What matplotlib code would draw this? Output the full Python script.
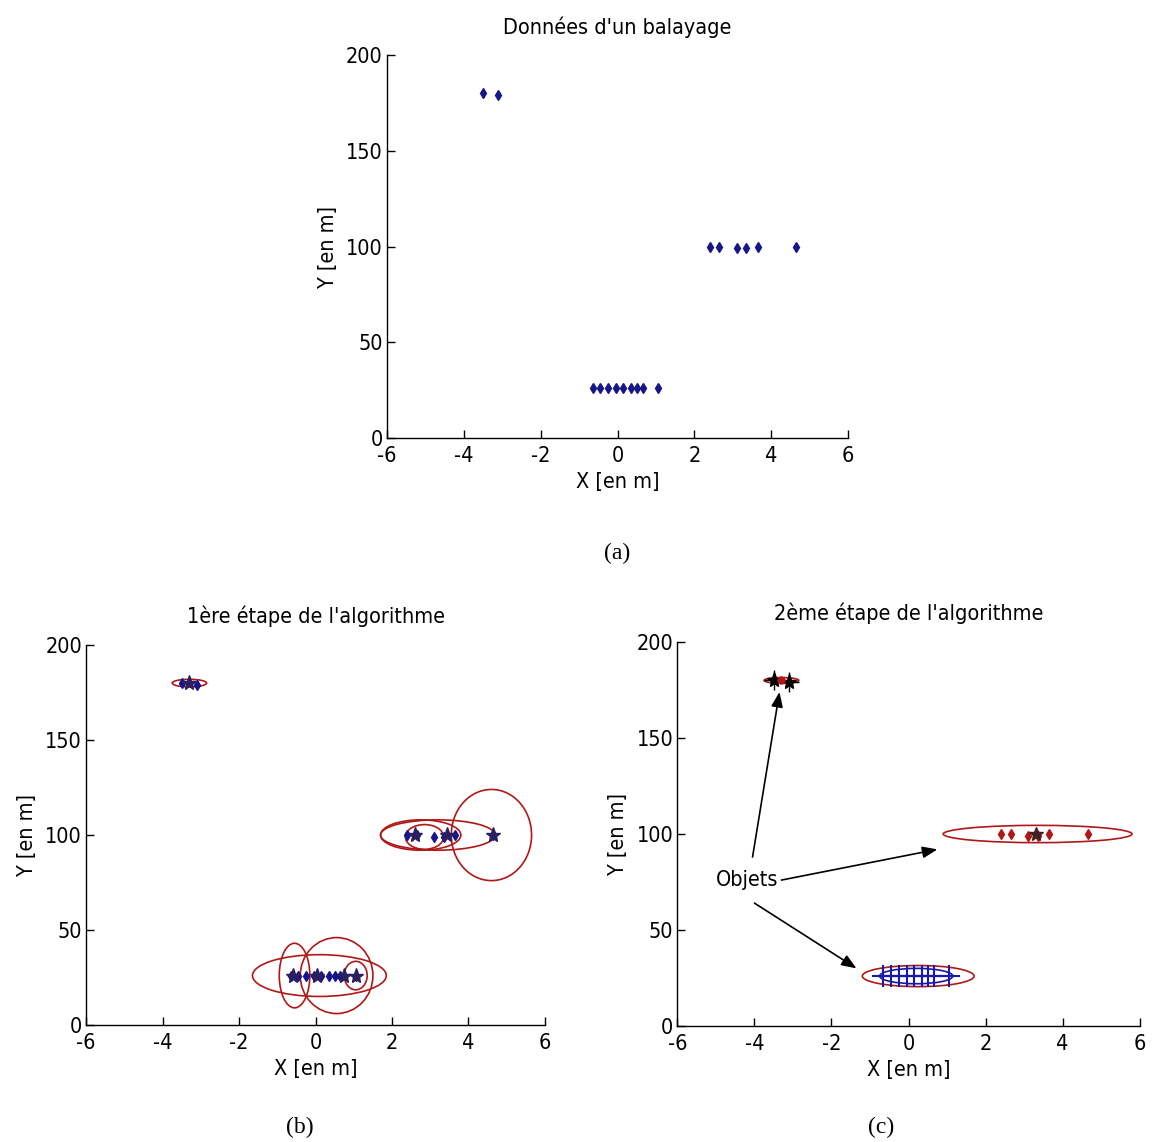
import matplotlib
matplotlib.use("Agg")
import matplotlib.pyplot as plt
from matplotlib.patches import Ellipse
from matplotlib import font_manager as fm

names = {f.name for f in fm.fontManager.ttflist}
SERIF = "Liberation Serif" if "Liberation Serif" in names else "DejaVu Serif"
plt.rcParams['font.family'] = ['DejaVu Sans']
plt.rcParams['font.stretch'] = 'condensed'
plt.rcParams['axes.unicode_minus'] = False

# ---------------- data ----------------
scan_x = [-3.5, -3.1, -0.65, -0.45, -0.25, -0.05, 0.15, 0.35, 0.5, 0.65, 1.05, 2.4, 2.65, 3.1, 3.35, 3.65, 4.65]
scan_y = [180, 179, 26, 26, 26, 26, 26, 26, 26, 26, 26, 100, 100, 99, 99, 100, 100]

# step 1: star (cluster seed) points and ellipses
star1_x = [-3.3, -0.6, 0.05, 0.75, 1.05, 2.6, 3.45, 4.65]
star1_y = [180, 26, 26, 26, 26, 100, 100, 100]
ell1_cx = [-3.3, 0.1, -0.55, 0.55, 1.05, 2.85, 3.2, 2.75, 4.6]
ell1_cy = [180, 26, 26, 26, 26, 99, 100, 100, 100]
ell1_w = [0.9, 3.5, 0.8, 1.9, 0.6, 1.0, 3.0, 2.1, 2.1]
ell1_h = [4, 22, 34, 40, 15, 13, 16, 16, 48]

# step 2: objects
obj_top_x = [-3.5, -3.1]
obj_top_y = [180, 179]
obj_mid_x = [2.4, 2.65, 3.1, 3.35, 3.65, 4.65]
obj_mid_y = [100, 100, 99, 99, 100, 100]
obj_bot_x = [-0.65, -0.45, -0.25, -0.05, 0.15, 0.35, 0.5, 0.65, 1.05]
obj_bot_y = [26, 26, 26, 26, 26, 26, 26, 26, 26]
ell2_cx = [-3.3, 3.35, 0.25, 0.2]
ell2_cy = [180, 100, 26, 26]
ell2_w = [0.9, 4.9, 2.9, 1.9]
ell2_h = [3, 9, 11, 8]
ell2_col = ['#b01818', '#b01818', '#b01818', '#1818a0']
arrow_tips = [(-3.35, 174), (0.75, 92), (-1.35, 30)]
arrow_starts = [(-4.05, 88), (-3.3, 76), (-4.0, 64)]

XT = [-6, -4, -2, 0, 2, 4, 6]
YT = [0, 50, 100, 150, 200]
NAVY = '#16168a'
RED = '#b01818'

fig = plt.figure(figsize=(11.57, 11.42), dpi=100)

def style(ax, title, tpad):
    ax.set_xlim(-6, 6)
    ax.set_ylim(0, 200)
    ax.set_xticks(XT)
    ax.set_yticks(YT)
    ax.tick_params(direction='in', length=6, labelsize=15.5, width=1)
    ax.tick_params(axis='x', pad=6)
    ax.tick_params(axis='y', pad=3)
    for s in ['top', 'right']:
        ax.spines[s].set_visible(False)
    for s in ['left', 'bottom']:
        ax.spines[s].set_linewidth(1.0)
    ax.set_xlabel('X [en m]', fontsize=15.5, labelpad=4)
    ax.set_ylabel('Y [en m]', fontsize=15.5, labelpad=6)
    ax.set_title(title, fontsize=15.5, pad=tpad)

# (a)
axa = fig.add_axes([0.3345, 0.6165, 0.3985, 0.3353])
style(axa, "Données d'un balayage", 15)
axa.plot(scan_x, scan_y, 'd', color=NAVY, markersize=5, linestyle='none')

# (b)
axb = fig.add_axes([0.0745, 0.1025, 0.3965, 0.3326])
style(axb, "1ère étape de l'algorithme", 16)
for cx, cy, w, h in zip(ell1_cx, ell1_cy, ell1_w, ell1_h):
    axb.add_patch(Ellipse((cx, cy), w, h, fill=False, edgecolor=RED, linewidth=1.2))
axb.plot(scan_x, scan_y, 'd', color=NAVY, markersize=5, linestyle='none')
axb.plot(star1_x, star1_y, '*', color='#2a2060', markersize=11, linestyle='none')

# (c)
axc = fig.add_axes([0.5855, 0.1016, 0.3995, 0.3362])
style(axc, "2ème étape de l'algorithme", 16)
for cx, cy, w, h, c in zip(ell2_cx, ell2_cy, ell2_w, ell2_h, ell2_col):
    axc.add_patch(Ellipse((cx, cy), w, h, fill=False, edgecolor=c, linewidth=1.2))
axc.plot(obj_top_x, obj_top_y, '*', color='black', markersize=11, linestyle='none')
axc.plot(obj_top_x, obj_top_y, '+', color='black', markersize=14, linestyle='none')
axc.plot([-3.3], [180], 'o', color=RED, markersize=5)
axc.plot(obj_mid_x, obj_mid_y, 'd', color=RED, markersize=5, linestyle='none')
axc.plot([3.3], [100], '*', color='#402020', markersize=10)
axc.plot(obj_bot_x, obj_bot_y, '+', color='#1818b0', markersize=16, markeredgewidth=1.5, linestyle='none')
axc.plot(obj_bot_x, obj_bot_y, '-', color='#1818b0', linewidth=1.5)
axc.text(-4.2, 76, 'Objets', fontsize=15.5, ha='center', va='center')
for (tx, ty), (sx, sy) in zip(arrow_tips, arrow_starts):
    axc.annotate('', xy=(tx, ty), xytext=(sx, sy),
                 arrowprops=dict(arrowstyle='-|>,head_length=0.9,head_width=0.35',
                                 color='black', linewidth=1.2, shrinkA=0, shrinkB=0))

fig.text(617 / 1157, 1 - 553 / 1142, '(a)', family=SERIF, fontsize=17, ha='center', va='center', stretch='normal')
fig.text(300 / 1157, 1 - 1127 / 1142, '(b)', family=SERIF, fontsize=17, ha='center', va='center', stretch='normal')
fig.text(881 / 1157, 1 - 1127 / 1142, '(c)', family=SERIF, fontsize=17, ha='center', va='center', stretch='normal')

fig.savefig('out.png', dpi=100, facecolor='white')
